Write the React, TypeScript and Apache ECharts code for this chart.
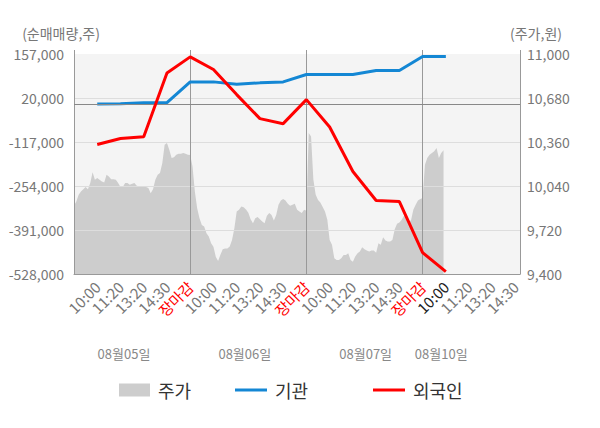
import React, { useEffect, useRef } from 'react';
import * as echarts from 'echarts';

// ---- data ----
const timeLabels = [
  '', '10:00', '11:20', '13:20', '14:30', '장마감',
  '10:00', '11:20', '13:20', '14:30', '장마감',
  '10:00', '11:20', '13:20', '14:30', '장마감',
  '10:00', '11:20', '13:20', '14:30',
];
const closeLabel = '장마감';
const currentLabelIndex = 16;

const dateLabels = ['08월05일', '08월06일', '08월07일', '08월10일'];
const datePositions = [2.15, 7.35, 12.55, 15.8];

const leftTicks = [-528000, -391000, -254000, -117000, 20000, 157000];
const rightTicks = [9400, 9720, 10040, 10360, 10680, 11000];

// 주가 (sampled every 0.1 label-step)
const priceStep = 0.1;
const prices = [
  9896, 9927, 9976, 10000, 10017, 10032, 10017, 10061, 10140, 10085,
  10098, 10085, 10073, 10066, 10122, 10110, 10090, 10090, 10085, 10061,
  10032, 10032, 10061, 10061, 10050, 10056, 10061, 10041, 10037, 10037,
  10032, 10032, 10025, 9988, 10017, 10085, 10122, 10134, 10207, 10340,
  10353, 10304, 10243, 10250, 10267, 10275, 10275, 10280, 10275, 10267,
  10265, 10182, 10000, 9879, 9806, 9757, 9745, 9697, 9672, 9624,
  9599, 9526, 9495, 9540, 9580, 9585, 9585, 9600, 9648, 9733,
  9854, 9867, 9891, 9885, 9870, 9846, 9799, 9770, 9806, 9814,
  9799, 9782, 9770, 9823, 9843, 9830, 9790, 9830, 9903, 9935,
  9945, 9935, 9911, 9896, 9903, 9911, 9867, 9855, 9843, 9867,
  9860, 10426, 10400, 10085, 9976, 9939, 9920, 9887, 9854, 9794,
  9648, 9612, 9514, 9502, 9502, 9514, 9539, 9539, 9551, 9502,
  9490, 9527, 9551, 9563, 9595, 9580, 9571, 9563, 9571, 9571,
  9555, 9624, 9612, 9667, 9643, 9636, 9636, 9648, 9726, 9765,
  9774, 9794, 9823, 9814, 9782, 9790, 9867, 9903, 9935, 9945,
  9952, 10195, 10243, 10267, 10280, 10292, 10316, 10243, 10280, 10300,
];

// 기관 / 외국인 at label positions 1..16
const flowPositions = [1, 2, 3, 4, 5, 6, 7, 8, 9, 10, 11, 12, 13, 14, 15, 16];
const institution = [
  1200, 2000, 5300, 5300, 70200, 70200, 62800, 67100, 70200, 93000,
  93000, 93000, 105500, 105800, 149200, 149200,
];
const foreigner = [
  -125000, -106000, -101000, 98000, 148000, 108600, 30600, -44300, -59900, 15000,
  -70200, -208700, -299200, -302400, -461500, -520800,
];

const X_MAX = 19.19;
const FONT = '"Noto Sans CJK KR", "Noto Sans", sans-serif';
const AREA = '#cdcdcd';
const BLUE = '#1487d4';
const RED = '#ff0000';

const fmt = (v: number) => v.toLocaleString('en-US');

export default function App() {
  const ref = useRef<HTMLDivElement>(null);

  useEffect(() => {
    if (!ref.current) return;
    const chart = echarts.init(ref.current, undefined, { renderer: 'svg' });

    const priceData = prices.map((p, i) => [+(i * priceStep).toFixed(2), p]);
    const instData = flowPositions.map((x, i) => [x, institution[i]]);
    const forData = flowPositions.map((x, i) => [x, foreigner[i]]);

    const legendBase = {
      top: 376,
      itemWidth: 32,
      itemHeight: 3,
      selectedMode: false,
      textStyle: { fontSize: 18, color: '#333', fontFamily: FONT, padding: [0, 0, 0, 3] },
    };

    chart.setOption({
      animation: false,
      backgroundColor: '#ffffff',
      textStyle: { fontFamily: FONT },
      grid: {
        left: 74,
        right: 80,
        top: 54,
        bottom: 154,
        show: true,
        backgroundColor: '#f4f4f4',
        borderWidth: 0,
      },
      legend: [
        { ...legendBase, left: 114, itemWidth: 31, itemHeight: 13, data: [{ name: '주가', icon: 'rect', itemStyle: { color: AREA } }] },
        { ...legendBase, left: 230, data: [{ name: '기관', icon: 'rect', itemStyle: { color: BLUE } }] },
        { ...legendBase, left: 368, data: [{ name: '외국인', icon: 'rect', itemStyle: { color: RED } }] },
      ],
      xAxis: [
        {
          type: 'value',
          min: 0,
          max: X_MAX,
          interval: 1,
          z: 3,
          axisLine: { show: true, onZero: false, lineStyle: { color: '#999' } },
          axisTick: { show: false },
          splitLine: { show: false },
          axisLabel: {
            rotate: 45,
            margin: 10,
            fontSize: 15,
            color: '#777',
            fontFamily: FONT,
            formatter: (v: number) => {
              if (Math.abs(v - Math.round(v)) > 1e-6) return '';
              const i = Math.round(v);
              const t = timeLabels[i] || '';
              if (!t) return '';
              if (t === closeLabel) return '{close|' + t + '}';
              if (i === currentLabelIndex) return '{now|' + t + '}';
              return t;
            },
            rich: {
              close: { color: RED, fontSize: 15, fontFamily: FONT },
              now: { color: '#222', fontSize: 15, fontFamily: FONT },
            },
          },
        },
        {
          type: 'value',
          min: 0,
          max: X_MAX,
          interval: 5,
          z: 3,
          axisLine: { show: false, onZero: false },
          axisTick: { show: true, length: 4, lineStyle: { color: '#999' } },
          axisLabel: { show: false },
          splitLine: { show: true, showMaxLine: false, lineStyle: { color: '#999', width: 1 } },
        },
      ],
      yAxis: [
        { type: 'value', min: leftTicks[0], max: leftTicks[leftTicks.length - 1], show: false },
        { type: 'value', min: rightTicks[0], max: rightTicks[rightTicks.length - 1], show: false },
        {
          type: 'value',
          position: 'left',
          min: 0,
          max: leftTicks.length - 1,
          interval: 1,
          z: 3,
          name: '(순매매량,주)',
          nameLocation: 'end',
          nameGap: 14,
          nameTextStyle: { color: '#777', fontSize: 14, fontFamily: FONT, padding: [0, 26, 0, 0] },
          axisLine: { show: true, onZero: false, lineStyle: { color: '#999' } },
          axisTick: { show: false },
          axisLabel: {
            margin: 10,
            fontSize: 14,
            color: '#777',
            fontFamily: FONT,
            formatter: (v: number) => fmt(leftTicks[Math.round(v)]),
          },
          splitLine: { show: true, showMaxLine: false, showMinLine: false, lineStyle: { color: '#dddddd', width: 1 } },
        },
        {
          type: 'value',
          position: 'right',
          min: 0,
          max: rightTicks.length - 1,
          interval: 1,
          z: 3,
          name: '(주가,원)',
          nameLocation: 'end',
          nameGap: 14,
          nameTextStyle: { color: '#777', fontSize: 14, fontFamily: FONT, padding: [0, 0, 0, 32] },
          axisLine: { show: true, onZero: false, lineStyle: { color: '#999' } },
          axisTick: { show: false },
          axisLabel: {
            margin: 7,
            fontSize: 14,
            color: '#777',
            fontFamily: FONT,
            formatter: (v: number) => fmt(rightTicks[Math.round(v)]),
          },
          splitLine: { show: false },
        },
      ],
      series: [
        {
          name: '주가',
          type: 'line',
          xAxisIndex: 0,
          yAxisIndex: 1,
          data: priceData,
          symbol: 'none',
          showSymbol: false,
          z: 1,
          itemStyle: { color: AREA },
          lineStyle: { width: 0, color: AREA },
          areaStyle: { color: AREA, opacity: 1, origin: 'start' },
        },
        {
          name: '기관',
          type: 'line',
          xAxisIndex: 0,
          yAxisIndex: 0,
          data: instData,
          symbol: 'none',
          showSymbol: false,
          z: 4,
          itemStyle: { color: BLUE },
          lineStyle: { width: 3, color: BLUE },
          markLine: {
            silent: true,
            symbol: 'none',
            label: { show: false },
            lineStyle: { color: '#888', width: 1, type: 'solid' },
            data: [{ yAxis: 0 }],
          },
        },
        {
          name: '외국인',
          type: 'line',
          xAxisIndex: 0,
          yAxisIndex: 0,
          data: forData,
          symbol: 'none',
          showSymbol: false,
          z: 5,
          itemStyle: { color: RED },
          lineStyle: { width: 3, color: RED },
        },
      ],
    });

    const xs = datePositions.map((p) => chart.convertToPixel({ xAxisIndex: 0 }, p) as number);
    chart.setOption({
      graphic: dateLabels.map((d, i) => ({
        type: 'text',
        x: xs[i],
        y: 353,
        style: {
          text: d,
          fill: '#888',
          fontSize: 13,
          fontFamily: FONT,
          align: 'center',
          verticalAlign: 'middle',
        },
      })),
    });

    return () => chart.dispose();
  }, []);

  return (
    <div
      ref={ref}
      style={{ position: 'fixed', left: 0, top: 0, width: 600, height: 428, background: '#fff' }}
    />
  );
}
